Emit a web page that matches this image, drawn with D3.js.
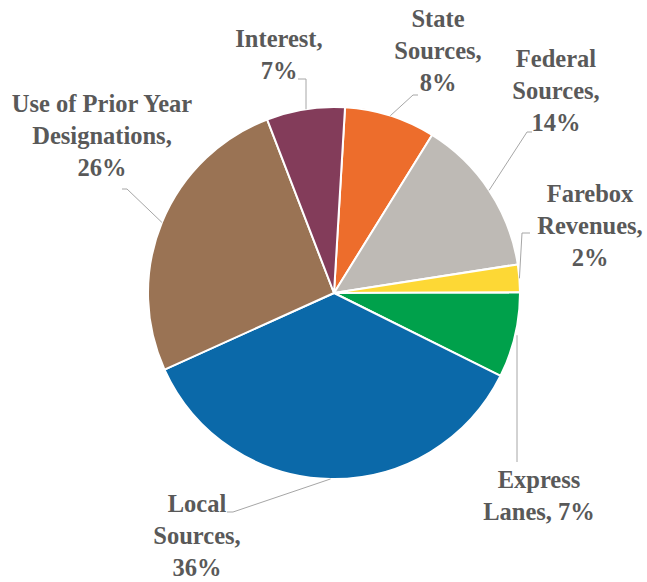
<!DOCTYPE html>
<html>
<head>
<meta charset="utf-8">
<script src="https://cdn.jsdelivr.net/npm/d3@7"></script>
<style>
  html, body { margin: 0; padding: 0; background: #ffffff; }
  svg { display: block; }
</style>
</head>
<body>
<svg id="chart" width="647" height="582"></svg>
<script>
// ---- data ----
const categories = ["State Sources", "Federal Sources", "Farebox Revenues", "Express Lanes", "Local Sources", "Use of Prior Year Designations", "Interest"];
const values = [7.9, 13.7, 2.4, 7.4, 35.9, 25.9, 6.8];
// label text lines; "{p}" is replaced by the rounded percentage
const labelLines = [
  ["State", "Sources,", "{p}"],
  ["Federal", "Sources,", "{p}"],
  ["Farebox", "Revenues,", "{p}"],
  ["Express", "Lanes, {p}"],
  ["Local", "Sources,", "{p}"],
  ["Use of Prior Year", "Designations,", "{p}"],
  ["Interest,", "{p}"]
];

// ---- styles / layout ----
const colors = ["#ED6D2C", "#BEBAB5", "#FDD835", "#00A14B", "#0B69A9", "#9A7354", "#833C5A"];
const cx = 334, cy = 293, radius = 186;
const startDeg = 3.4;
const fontSize = 24.5, lineH = 32;
// label anchor (center x, first baseline y) and leader elbow/end points
const labelLayout = [
  { x: 438, y: 27,  elbow: [413, 95],  end: [418, 95] },
  { x: 556, y: 67,  elbow: [527, 132], end: [532, 132] },
  { x: 590, y: 202, elbow: [522, 233], end: [530, 233] },
  { x: 539, y: 488, elbow: [517, 462], end: [517, 462], straight: true },
  { x: 197, y: 512, elbow: [233, 512], end: [227, 512] },
  { x: 102, y: 112, elbow: [127, 189], end: [122, 189] },
  { x: 279, y: 47,  elbow: [306, 79],  end: [298, 79], vertical: true }
];

const svg = d3.select("#chart");
const g = svg.append("g").attr("transform", `translate(${cx},${cy})`);

const toRad = d => d * Math.PI / 180;
const pie = d3.pie().sort(null).value(d => d)
  .startAngle(toRad(startDeg)).endAngle(toRad(startDeg) + 2 * Math.PI);
const arcs = pie(values);
const arc = d3.arc().innerRadius(0).outerRadius(radius);

g.selectAll("path.slice").data(arcs).enter().append("path")
  .attr("class", "slice")
  .attr("d", arc)
  .attr("fill", (d, i) => colors[i])
  .attr("stroke", "#ffffff")
  .attr("stroke-width", 2)
  .attr("stroke-linejoin", "round");

// leader lines
const fmtPct = v => Math.round(v) + "%";
arcs.forEach((a, i) => {
  const mid = (a.startAngle + a.endAngle) / 2;
  let sx = cx + radius * Math.sin(mid);
  let sy = cy - radius * Math.cos(mid);
  const L = labelLayout[i];
  if (L.vertical) sx = L.elbow[0];
  if (L.straight) sx = L.elbow[0];
  const pts = [[sx, sy], L.elbow, L.end];
  svg.append("path")
    .attr("d", d3.line()(pts))
    .attr("fill", "none")
    .attr("stroke", "#A6A6A6")
    .attr("stroke-width", 1);
});

// labels
labelLines.forEach((lines, i) => {
  const L = labelLayout[i];
  const t = svg.append("text")
    .attr("x", L.x).attr("y", L.y)
    .attr("text-anchor", "middle")
    .attr("font-family", "'Liberation Serif', 'DejaVu Serif', serif")
    .attr("font-weight", "bold")
    .attr("font-size", fontSize)
    .attr("fill", "#595959");
  lines.forEach((ln, k) => {
    t.append("tspan")
      .attr("x", L.x)
      .attr("y", L.y + k * lineH)
      .text(ln.replace("{p}", fmtPct(values[i])));
  });
});
</script>
</body>
</html>
